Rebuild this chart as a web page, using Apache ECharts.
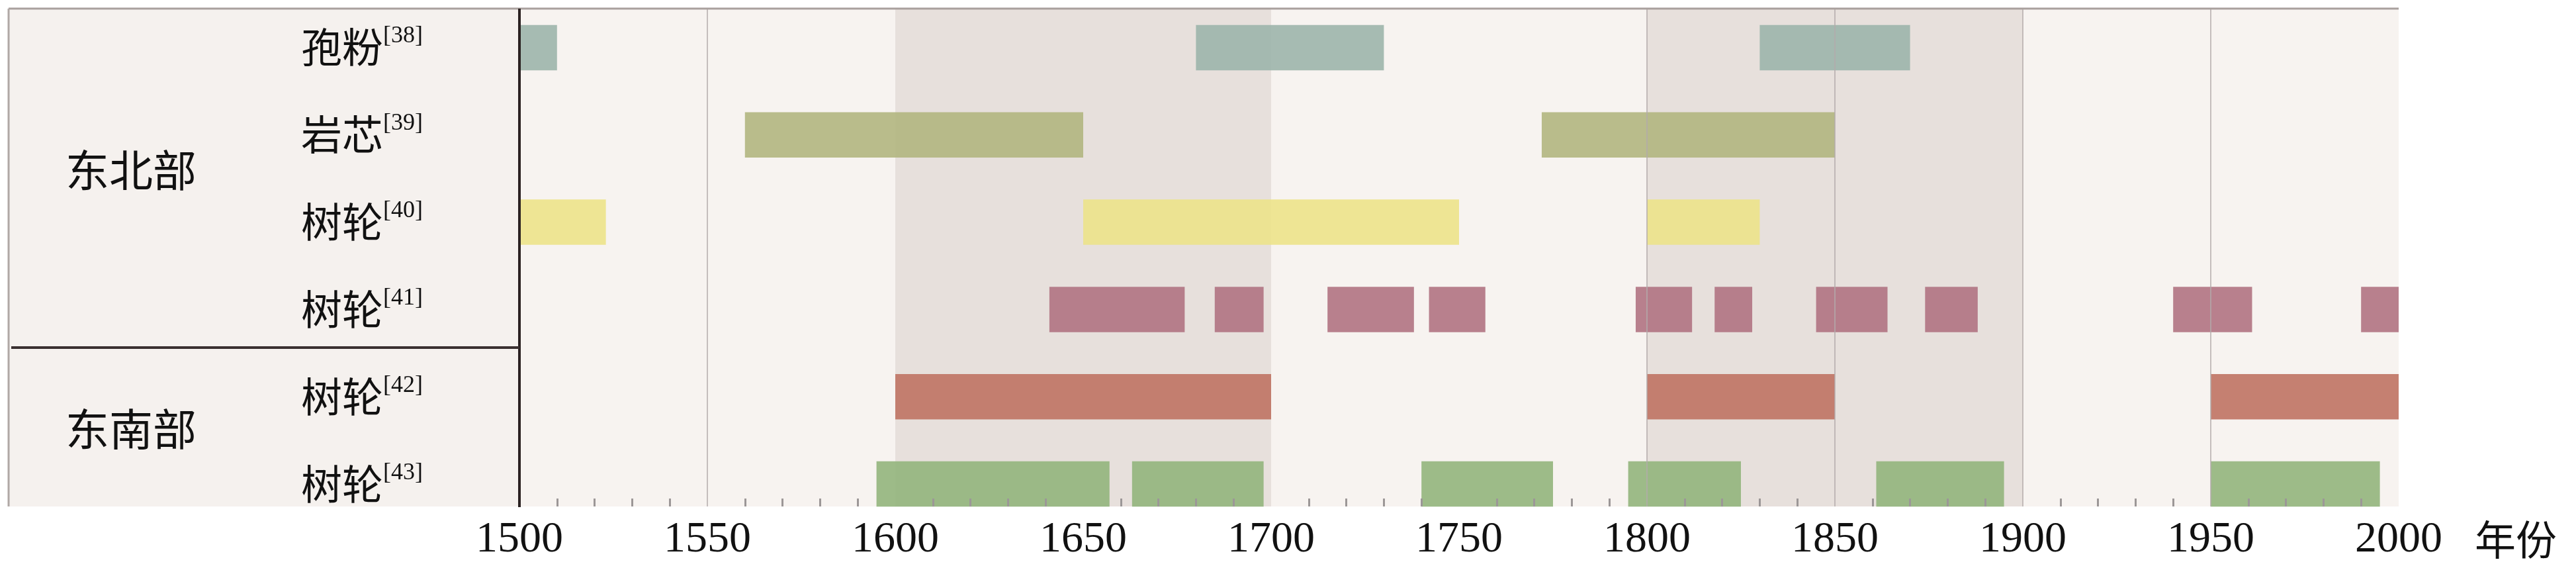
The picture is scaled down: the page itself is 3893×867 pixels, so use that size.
<!DOCTYPE html>
<html>
<head>
<meta charset="utf-8">
<script src="https://cdn.jsdelivr.net/npm/echarts@6/dist/echarts.min.js"></script>
<style>
html,body{margin:0;padding:0;background:#ffffff;}
#chart{width:3893px;height:867px;}
</style>
</head>
<body>
<div id="chart"></div>
<script>
// ---- data ----
const rowNames = ['孢粉', '岩芯', '树轮', '树轮', '树轮', '树轮'];
const rowRefs = ['[38]', '[39]', '[40]', '[41]', '[42]', '[43]'];
const groupNames = ['东北部', '东南部'];
const axisUnit = '年份';
const yearMin = 1500;
const yearMax = 2000;
const yearStep = 50;
const gridYears = [1550, 1800, 1850, 1900, 1950];
const shadedPeriods = [[1600, 1700], [1800, 1900]];

const pollen38 = [[1500, 1510], [1680, 1730], [1830, 1870]];
const core39 = [[1560, 1650], [1772, 1850]];
const ring40 = [[1500, 1523], [1650, 1750], [1800, 1830]];
const ring41 = [[1641, 1677], [1685, 1698], [1715, 1738], [1742, 1757], [1797, 1812],
                [1818, 1828], [1845, 1864], [1874, 1888], [1940, 1961], [1990, 2000]];
const ring42 = [[1600, 1700], [1800, 1850], [1950, 2000]];
const ring43 = [[1595, 1657], [1663, 1698], [1740, 1775], [1795, 1825], [1861, 1895], [1950, 1995]];

const rows = [pollen38, core39, ring40, ring41, ring42, ring43];
const rowColors = ['#9cb5ab', '#b1b67f', '#ece38a', '#b07382', '#bf7363', '#92b57c'];

// ---- chart ----
const chart = echarts.init(document.getElementById('chart'), null, {renderer: 'canvas'});

function renderBar(params, api) {
  const row = api.value(0);
  const p0 = api.coord([api.value(1), row]);
  const p1 = api.coord([api.value(2), row]);
  const h = api.size([0, 1])[1] * 0.52;
  return {
    type: 'rect',
    shape: {x: p0[0], y: p0[1] - h / 2, width: p1[0] - p0[0], height: h},
    style: api.style()
  };
}

const barSeries = rows.map((segs, i) => ({
  type: 'custom',
  name: rowNames[i] + rowRefs[i],
  xAxisIndex: 1,
  yAxisIndex: 1,
  z: 3,
  renderItem: renderBar,
  itemStyle: {color: rowColors[i], opacity: 0.9},
  encode: {x: [1, 2], y: 0},
  data: segs.map(s => [i, s[0], s[1]]),
  silent: true
}));

const categoryData = rowNames.map((n, i) => n + rowRefs[i]);
const serifFont = '"Liberation Serif", "Times New Roman", serif';
const cjkFont = '"Noto Sans CJK SC", sans-serif';

const option = {
  backgroundColor: '#ffffff',
  animation: false,
  grid: [
    {left: 785, right: 268, top: 13, bottom: 102, show: true, backgroundColor: '#f7f3f0', borderWidth: 0},
    {left: 785, right: 268, top: 6, bottom: 70, show: false}
  ],
  xAxis: [
    {
      type: 'value', gridIndex: 0, min: yearMin, max: yearMax, interval: yearStep, z: 10,
      axisLine: {show: false},
      axisTick: {show: false, inside: true},
      minorTick: {show: true, splitNumber: 5, length: 12, lineStyle: {color: '#9c9797', width: 3}},
      splitLine: {show: false},
      minorSplitLine: {show: false},
      axisLabel: {
        fontSize: 66, fontFamily: serifFont, color: '#111111', margin: 18,
        formatter: function (v) { return String(v); }
      }
    },
    {type: 'value', gridIndex: 1, min: yearMin, max: yearMax, show: false}
  ],
  yAxis: [
    {type: 'value', gridIndex: 0, min: 0, max: 1, show: false},
    {
      type: 'category', gridIndex: 1, inverse: true, data: categoryData, z: 60,
      axisLine: {show: false}, axisTick: {show: false}, splitLine: {show: false},
      axisLabel: {
        margin: 146, interval: 0,
        formatter: function (v, idx) { return '{n|' + rowNames[idx] + '}{s|' + rowRefs[idx] + '}'; },
        rich: {
          n: {fontSize: 62, fontFamily: cjkFont, color: '#111111', lineHeight: 70},
          s: {fontSize: 36, fontFamily: serifFont, color: '#111111', verticalAlign: 'top', lineHeight: 40}
        }
      }
    }
  ],
  graphic: {
    elements: [
      {type: 'rect', z: -10, shape: {x: 13, y: 13, width: 772, height: 752}, style: {fill: '#f5f1ee'}},
      {type: 'line', z: 50, shape: {x1: 13, y1: 13, x2: 3625, y2: 13}, style: {stroke: '#a9a09d', lineWidth: 3}},
      {type: 'line', z: 50, shape: {x1: 13, y1: 13, x2: 13, y2: 765}, style: {stroke: '#b0a8a5', lineWidth: 3}},
      {type: 'line', z: 50, shape: {x1: 785, y1: 13, x2: 785, y2: 766}, style: {stroke: '#2b2222', lineWidth: 4}},
      {type: 'line', z: 50, shape: {x1: 17, y1: 525, x2: 785, y2: 525}, style: {stroke: '#3a3030', lineWidth: 4}},
      {type: 'text', z: 50, x: 198, y: 257, style: {text: groupNames[0], font: '66px ' + cjkFont, fill: '#111111', align: 'center', verticalAlign: 'middle'}},
      {type: 'text', z: 50, x: 198, y: 648, style: {text: groupNames[1], font: '66px ' + cjkFont, fill: '#111111', align: 'center', verticalAlign: 'middle'}},
      {type: 'text', z: 50, x: 3740, y: 815, style: {text: axisUnit, font: '62px ' + cjkFont, fill: '#111111', align: 'left', verticalAlign: 'middle'}}
    ]
  },
  series: [
    {
      type: 'line', xAxisIndex: 0, yAxisIndex: 0, data: [], z: 1, silent: true,
      markArea: {
        silent: true,
        itemStyle: {color: '#e7e0dc'},
        data: shadedPeriods.map(p => [{xAxis: p[0]}, {xAxis: p[1]}])
      },
      markLine: {
        silent: true, symbol: 'none', label: {show: false},
        lineStyle: {color: '#b3abab', width: 1.5, type: 'solid'},
        data: gridYears.map(y => ({xAxis: y}))
      }
    }
  ].concat(barSeries)
};

chart.setOption(option);
</script>
</body>
</html>
